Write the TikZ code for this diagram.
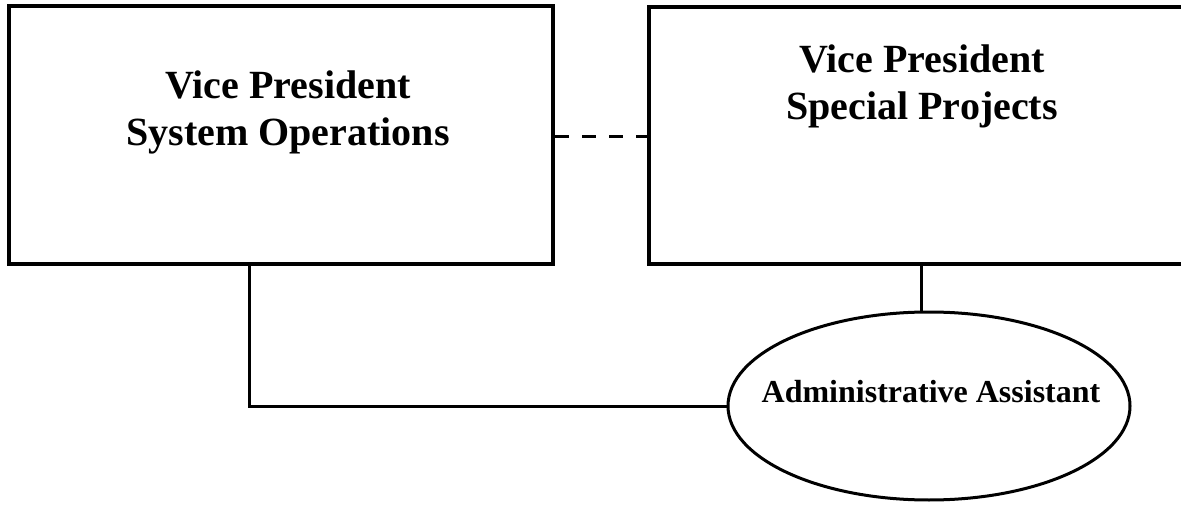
\documentclass[tikz,border=0pt]{standalone}
\usepackage{fontspec}
\setmainfont{Liberation Serif}
\usetikzlibrary{shapes.geometric}

\tikzset{every picture/.style={line width=3pt}}
\tikzset{
  vpbox/.style={draw, line width=4pt, rectangle, inner sep=0pt},
  vptext/.style={font=\bfseries\fontsize{40}{47}\selectfont, align=center, inner sep=0pt},
  assistoval/.style={draw, line width=3pt, ellipse, inner sep=0pt, minimum width=402, minimum height=188},
  assisttext/.style={font=\bfseries\fontsize{32}{34}\selectfont, inner sep=0pt}
}

\begin{document}
\begin{tikzpicture}[x=1pt,y=1pt,yscale=-1,xscale=1]
% page frame, the right box runs past it
\clip (0,0) rectangle (1181,505);

%Shape: Rectangle [left box]
\node (sysops) [vpbox, minimum width=544, minimum height=258] at (281,135) {};
%Shape: Rectangle [right box]
\node (specproj) [vpbox, minimum width=546, minimum height=257] at (922,135.5) {};
%Shape: Ellipse
\node (assist) [assistoval] at (929,406) {};

% Text Node
\node (sysopslbl) [vptext] at (288,112) {Vice President\\System Operations};
% Text Node
\node (specprojlbl) [vptext] at (922,86) {Vice President\\Special Projects};
% Text Node
\node (assistlbl) [assisttext] at (931,392) {Administrative Assistant};

% drop points under the boxes
\coordinate (opsdrop) at (249,264);
\coordinate (projdrop) at (921,264);

% dotted-line link between the two VPs
\draw [dash pattern=on 14pt off 13pt] (sysops.east |- 0,137) -- (specproj.west |- 0,137);
% both report lines into the assistant
\draw (opsdrop) |- (assist.west);
\draw (projdrop) -- (projdrop |- assist.north);

\end{tikzpicture}
\end{document}
